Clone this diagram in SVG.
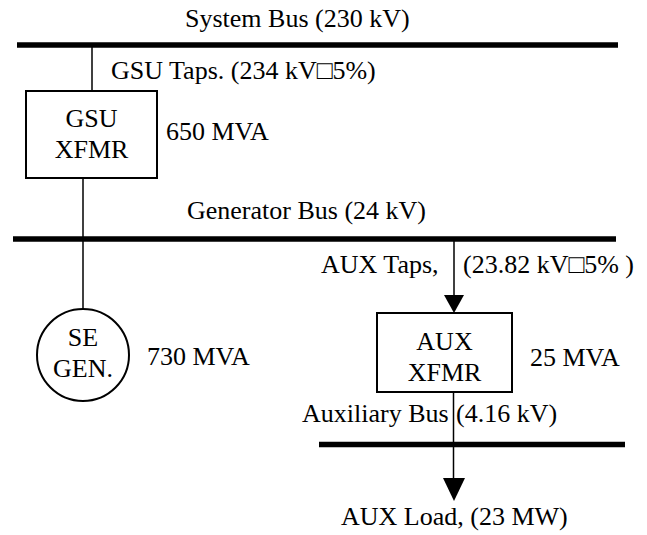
<svg xmlns="http://www.w3.org/2000/svg" width="647" height="535" viewBox="0 0 647 535">
<defs>
<style>
text{font-family:"Liberation Serif","Times New Roman",serif;font-size:26px;fill:#000}
.bus{stroke:#000;stroke-width:5.5;fill:none}
.ln{stroke:#000;stroke-width:1.5;fill:none}
.box{stroke:#000;stroke-width:2;fill:#fff}
.c{text-anchor:middle}
.ah{fill:#000}
</style>
</defs>
<g id="connectors">
<line class="ln" x1="92" y1="45" x2="92" y2="91"/>
<line class="ln" x1="83" y1="178" x2="83" y2="309"/>
<line class="ln" x1="454" y1="239" x2="454" y2="297"/>
<path class="ah" d="M444,295 L464,295 L454,313 Z"/>
<line class="ln" x1="453.5" y1="392" x2="453.5" y2="480"/>
<path class="ah" d="M443,478 L465,478 L454,501 Z"/>
</g>
<g id="system-bus">
<line class="bus" x1="17" y1="45" x2="618" y2="45"/>
<text x="185" y="27">System Bus (230 kV)</text>
</g>
<g id="gsu-taps"><text x="111" y="79">GSU Taps. (234 kV□5%)</text></g>
<g id="gsu-xfmr">
<rect class="box" x="26" y="91" width="131" height="87"/>
<text class="c" x="91.5" y="127">GSU</text>
<text class="c" x="91.5" y="158">XFMR</text>
<text x="166" y="140">650 MVA</text>
</g>
<g id="generator-bus">
<line class="bus" x1="13" y1="239" x2="616" y2="239"/>
<text x="187" y="219">Generator Bus (24 kV)</text>
</g>
<g id="se-gen">
<circle cx="83" cy="355" r="46" fill="#fff" stroke="#000" stroke-width="2"/>
<text class="c" x="83" y="346">SE</text>
<text class="c" x="83" y="377">GEN.</text>
<text x="147" y="365">730 MVA</text>
</g>
<g id="aux-taps">
<text x="321" y="273">AUX Taps,</text>
<text x="463" y="273">(23.82 kV□5% )</text>
</g>
<g id="aux-xfmr">
<rect class="box" x="377" y="313" width="135" height="79"/>
<text class="c" x="444.5" y="350">AUX</text>
<text class="c" x="444.5" y="381">XFMR</text>
<text x="530" y="366">25 MVA</text>
</g>
<g id="auxiliary-bus">
<line class="bus" x1="319" y1="444.5" x2="625" y2="444.5"/>
<text x="302" y="422">Auxiliary Bus</text>
<text x="456" y="422">(4.16 kV)</text>
</g>
<g id="aux-load">
<text x="341" y="525">AUX Load, (23 MW)</text>
</g>
</svg>
